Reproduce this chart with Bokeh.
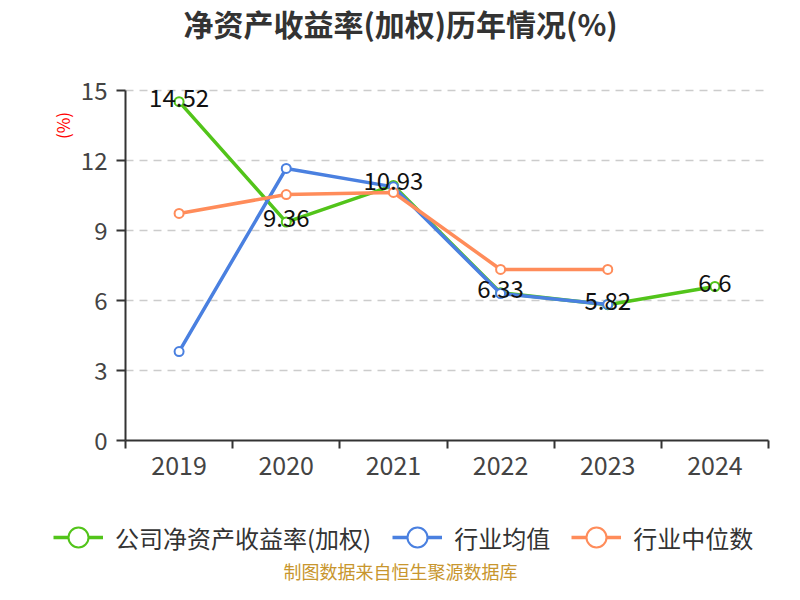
from bokeh.plotting import figure
from bokeh.models import (Range1d, FixedTicker, Legend, LegendItem, ColumnDataSource,
                          LinearAxis, Label)
from bokeh.core.properties import value
from bokeh.embed import file_html
from bokeh.resources import INLINE
import math

years = ["2019", "2020", "2021", "2022", "2023", "2024"]
company = [14.52, 9.36, 10.93, 6.33, 5.82, 6.6]
company_labels = ["14.52", "9.36", "10.93", "6.33", "5.82", "6.6"]
industry_avg = [3.81, 11.66, 10.87, 6.3, 5.83]
industry_median = [9.73, 10.54, 10.63, 7.33, 7.33]
y_ticks = [0, 3, 6, 9, 12, 15]

title_text = "净资产收益率(加权)历年情况(%)"
y_label_text = "(%)"
footer_text = "制图数据来自恒生聚源数据库"
series_names = ["公司净资产收益率(加权)", "行业均值", "行业中位数"]
colors = ["#52C41A", "#4A80E0", "#FF8C5A"]

FONT = "Noto Sans CJK SC"

# layout (pixels): plot area inside the canvas
W, H = 784, 584
L, R, T, B = 125, 16, 90, 144
n = len(years)
y_min, y_max = y_ticks[0], y_ticks[-1]
ppx = (W - L - R) / n
ppy = (H - T - B) / (y_max - y_min)
x_lo, x_hi = -0.5, n - 0.5

p = figure(width=W, height=H, output_backend="svg", toolbar_location=None, title=None,
           x_axis_location=None, y_axis_location=None,
           x_range=Range1d(x_lo - L / ppx, x_hi + R / ppx),
           y_range=Range1d(y_min - B / ppy, y_max + T / ppy),
           min_border=0)
p.outline_line_color = None
p.background_fill_color = "white"
p.border_fill_color = "white"
p.xgrid.grid_line_color = None
p.ygrid.grid_line_color = None

# grid lines (dashed), spanning the category area only
grid_y = [v for v in y_ticks if v != y_min]
p.segment(x0=x_lo, x1=x_hi, y0=grid_y, y1=grid_y, line_color="#CCCCCC",
          line_width=1.5, line_dash="8 6")

# x axis
xi = list(range(n))
xaxis = LinearAxis(fixed_location=y_min, bounds=(x_lo, x_hi),
                   ticker=FixedTicker(ticks=xi, minor_ticks=[i - 0.5 for i in range(n + 1)]))
xaxis.major_label_overrides = {i: y for i, y in enumerate(years)}
xaxis.major_tick_out = 0
xaxis.major_tick_in = 0
xaxis.minor_tick_out = 8
xaxis.minor_tick_in = 0
xaxis.minor_tick_line_color = "#333333"
xaxis.minor_tick_line_width = 2
xaxis.axis_line_color = "#333333"
xaxis.axis_line_width = 2
xaxis.major_label_text_font = FONT
xaxis.major_label_text_font_size = "25px"
xaxis.major_label_text_color = "#444444"
xaxis.major_label_standoff = 7
p.add_layout(xaxis, "below")

# y axis
yaxis = LinearAxis(fixed_location=x_lo, bounds=(y_min, y_max), ticker=FixedTicker(ticks=y_ticks))
yaxis.major_tick_out = 9
yaxis.major_tick_in = 0
yaxis.minor_tick_line_color = None
yaxis.major_tick_line_color = "#333333"
yaxis.major_tick_line_width = 2
yaxis.axis_line_color = "#333333"
yaxis.axis_line_width = 2
yaxis.major_label_text_font = FONT
yaxis.major_label_text_font_size = "24px"
yaxis.major_label_text_color = "#444444"
yaxis.major_label_standoff = 9
p.add_layout(yaxis, "left")

renderers = []
for vals, col in zip([company, industry_avg, industry_median], colors):
    xs = list(range(len(vals)))
    src = ColumnDataSource(dict(x=xs, y=vals))
    ln = p.line("x", "y", source=src, line_color=col, line_width=3.5)
    sc = p.scatter("x", "y", source=src, size=9, marker="circle", fill_color="white",
                   line_color=col, line_width=2)
    renderers.append([ln, sc])

lab_src = ColumnDataSource(dict(x=xi, y=company, t=company_labels))
p.text("x", "y", text="t", source=lab_src, text_font=value(FONT), text_font_size="24px",
       text_color="#111111", text_align="center", text_baseline="middle", y_offset=-4)

legend = Legend(items=[LegendItem(label=nm, renderers=r) for nm, r in zip(series_names, renderers)],
                orientation="horizontal", location=(53, 22),
                label_text_font=FONT, label_text_font_size="24px", label_text_color="#333333",
                glyph_width=50, glyph_height=50, label_standoff=12, spacing=21,
                border_line_color=None, background_fill_alpha=0, margin=0, padding=0)
p.add_layout(legend, "center")

p.add_layout(Label(x=400, y=H - 22, x_units="screen", y_units="screen", text=title_text,
                   text_font=FONT, text_font_size="30px", text_font_style="bold",
                   text_color="#333333", text_align="center", text_baseline="middle"))
p.add_layout(Label(x=62, y=H - 125, x_units="screen", y_units="screen", text=y_label_text,
                   text_font=FONT, text_font_size="17px", text_color="red", angle=math.pi / 2,
                   text_align="center", text_baseline="middle"))
p.add_layout(Label(x=400, y=14, x_units="screen", y_units="screen", text=footer_text,
                   text_font=FONT, text_font_size="18px", text_color="#C8962E",
                   text_align="center", text_baseline="middle"))

open("out.html", "w").write(file_html(p, INLINE))
